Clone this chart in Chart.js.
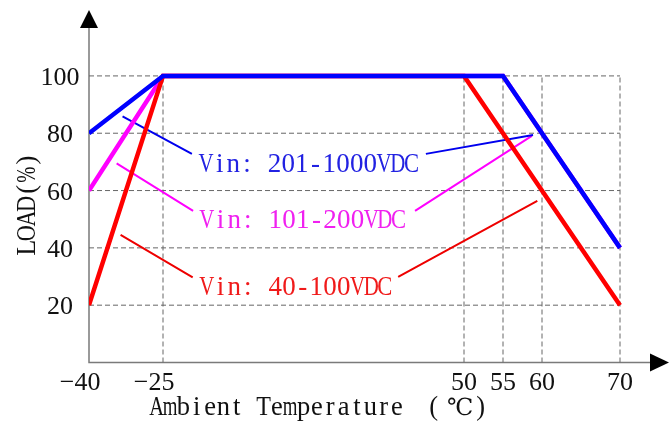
<!DOCTYPE html>
<html>
<head>
<meta charset="utf-8">
<script src="https://cdn.jsdelivr.net/npm/chart.js@4"></script>
<style>
  html, body { margin: 0; padding: 0; background: #fff; }
  canvas { display: block; }
</style>
</head>
<body>
<canvas id="deratingChart" width="669" height="425"></canvas>
<script>
// ==================== DATA ====================

const xTicks = [-40, -25, 50, 55, 60, 70];
const yTicks = [20, 40, 60, 80, 100];

const blueTemp = [-40, -25, 55, 70];
const blueLoad = [80, 100, 100, 40];
const magentaTemp = [-40, -25, 55, 70];
const magentaLoad = [60, 100, 100, 40];
const redTemp = [-40, -25, 50, 70];
const redLoad = [20, 100, 100, 20];

const seriesLabels = ['Vin: 201-1000VDC', 'Vin: 101-200VDC', 'Vin: 40-100VDC'];
// label anchor (temp, load) for each series text
const labelTemp = [-16.0, -15.8, -15.8];
const labelLoad = [66.5, 46.9, 23.6];

// leader lines: [startTemp, startLoad, endTemp, endLoad]
const blueLeaders = [[-33.2, 85.9, -17.8, 72.8], [40.5, 72.8, 58.85, 79.4]];
const magentaLeaders = [[-34.4, 69.5, -17.5, 52.9], [37.8, 52.9, 58.7, 79.1]];
const redLeaders = [[-33.6, 44.5, -17.6, 29.7], [33.6, 29.9, 59.4, 56.4]];

const xTitle = 'Ambient Temperature （℃）';
const yTitle = 'LOAD(%)';

// ==================== AXIS WARP ====================
// the temperature axis is stretched unevenly in the original drawing
const warpAnchors = [[-40, 0], [-25, 74], [50, 375], [70, 531]];

function warp(t) {
    for (let i = 1; i < warpAnchors.length; i++) {
        const [t0, p0] = warpAnchors[i - 1];
        const [t1, p1] = warpAnchors[i];
        if (t <= t1 || i === warpAnchors.length - 1) {
            return p0 + (t - t0) * (p1 - p0) / (t1 - t0);
        }
    }
}

function toPoints(temps, loads) {
    return temps.map((t, i) => ({ x: warp(t), y: loads[i] }));
}

function leaderPoints(list) {
    const pts = [];
    list.forEach(([t0, l0, t1, l1]) => {
        pts.push({ x: warp(t0), y: l0 }, { x: warp(t1), y: l1 }, { x: warp(t1), y: null });
    });
    return pts;
}

function gridPoints() {
    const pts = [];
    yTicks.forEach(v => {
        pts.push({ x: warp(-40), y: v }, { x: warp(70), y: v }, { x: warp(70), y: null });
    });
    xTicks.slice(1).forEach(t => {
        pts.push({ x: warp(t), y: 0 }, { x: warp(t), y: 100 }, { x: warp(t), y: null });
    });
    return pts;
}

// ==================== DRAWING HELPERS ====================

const SERIF = '"Liberation Serif", serif';
const SYMBOL = '"DejaVu Serif", "Noto Sans CJK SC", serif';
const wideChar = /[\u2100-\u214F\u3000-\u30FF\uFF00-\uFFEF]/;

// fake a half-width / full-width monospace layout like the original font
function drawMono(ctx, text, x, y, cell, size) {
    let cx = x;
    for (const ch of text) {
        const wide = wideChar.test(ch);
        const w = wide ? cell * 2 : cell;
        ctx.textAlign = 'center';
        if (ch === '（' || ch === '）') {
            ctx.font = size + 'px ' + SERIF;
            ctx.fillText(ch === '（' ? '(' : ')', cx + w * (ch === '（' ? 0.62 : 0.38), y);
        } else if (wide) {
            ctx.font = (size - 3) + 'px ' + SYMBOL;
            ctx.fillText(ch, cx + w / 2 + 3, y);
        } else {
            ctx.font = size + 'px ' + SERIF;
            const m = ctx.measureText(ch).width;
            const s = m > 0 ? Math.min(1, cell * 1.1 / m) : 1;
            ctx.save();
            ctx.translate(cx + w / 2, y);
            ctx.scale(s, 1);
            ctx.fillText(ch, 0, 0);
            ctx.restore();
        }
        cx += w;
    }
}

const decorPlugin = {
    id: 'decor',
    beforeDatasetsDraw(chart) {
        const { ctx, chartArea, scales: { x, y } } = chart;
        const x0 = x.getPixelForValue(warp(-40));
        const y0 = y.getPixelForValue(0);
        ctx.save();
        ctx.strokeStyle = '#7a7a7a';
        ctx.lineWidth = 1.5;
        ctx.beginPath();
        ctx.moveTo(x0, chartArea.top + 16);
        ctx.lineTo(x0, y0);
        ctx.lineTo(chartArea.right - 16, y0);
        ctx.stroke();

        ctx.fillStyle = '#000';
        ctx.beginPath();
        ctx.moveTo(x0, chartArea.top);
        ctx.lineTo(x0 - 9, chartArea.top + 18);
        ctx.lineTo(x0 + 9, chartArea.top + 18);
        ctx.closePath();
        ctx.fill();
        ctx.beginPath();
        ctx.moveTo(chartArea.right, y0);
        ctx.lineTo(chartArea.right - 19, y0 - 9);
        ctx.lineTo(chartArea.right - 19, y0 + 9);
        ctx.closePath();
        ctx.fill();
        ctx.restore();
    },
    afterDatasetsDraw(chart) {
        const { ctx, scales: { x, y } } = chart;
        ctx.save();
        ctx.fillStyle = '#111';
        ctx.font = '26px ' + SERIF;
        ctx.textBaseline = 'alphabetic';

        // y tick labels
        ctx.textAlign = 'center';
        yTicks.forEach(v => {
            ctx.fillText(String(v), 60, y.getPixelForValue(v) + 9);
        });

        // x tick labels, minus sign hangs to the left of the digits
        const yBase = y.getPixelForValue(0) + 27.5;
        xTicks.forEach(t => {
            const px = x.getPixelForValue(warp(t));
            const digits = String(Math.abs(t));
            ctx.textAlign = 'center';
            ctx.fillText(digits, px - (t < 0 ? 1.5 : 0), yBase);
            if (t < 0) {
                const w = ctx.measureText(digits).width;
                ctx.textAlign = 'right';
                ctx.fillText('\u2212', px - 1.5 - w / 2, yBase);
            }
        });

        // axis titles
        drawMono(ctx, xTitle, 150, 415, 13.35, 26.5);
        ctx.save();
        ctx.translate(35, 255);
        ctx.rotate(-Math.PI / 2);
        drawMono(ctx, yTitle, 0, 0, 14.6, 26.5);
        ctx.restore();

        // series texts
        const textColors = ['#2222e2', '#f020f0', '#f01a1a'];
        seriesLabels.forEach((label, i) => {
            ctx.fillStyle = textColors[i];
            drawMono(ctx, label, x.getPixelForValue(warp(labelTemp[i])), y.getPixelForValue(labelLoad[i]), 13.7, 27);
        });
        ctx.restore();
    }
};

// ==================== CHART ====================

function thickLine(points, color, order) {
    return {
        data: points,
        borderColor: color,
        borderWidth: 4.5,
        borderJoinStyle: 'miter',
        pointRadius: 0,
        tension: 0,
        order: order
    };
}

const ctx = document.getElementById('deratingChart');

new Chart(ctx, {
    type: 'line',
    data: {
        datasets: [
            thickLine(toPoints(blueTemp, blueLoad), '#0000ff', 1),
            thickLine(toPoints(redTemp, redLoad), '#ff0000', 2),
            thickLine(toPoints(magentaTemp, magentaLoad), '#ff00ff', 3),
            { data: leaderPoints(blueLeaders), borderColor: '#0000ee', borderWidth: 2, pointRadius: 0, order: 4 },
            { data: leaderPoints(magentaLeaders), borderColor: '#ff00ff', borderWidth: 2, pointRadius: 0, order: 4 },
            { data: leaderPoints(redLeaders), borderColor: '#ee0000', borderWidth: 2, pointRadius: 0, order: 4 },
            { data: gridPoints(), borderColor: '#666666', borderWidth: 1, borderDash: [5, 3], pointRadius: 0, order: 10 }
        ]
    },
    options: {
        responsive: false,
        animation: false,
        spanGaps: false,
        layout: { padding: { left: 89, right: 0, top: 10, bottom: 62.5 } },
        plugins: {
            legend: { display: false },
            tooltip: { enabled: false }
        },
        scales: {
            x: { type: 'linear', display: false, min: 0, max: 580 },
            y: { type: 'linear', display: false, min: 0, max: 123 }
        }
    },
    plugins: [decorPlugin]
});
</script>
</body>
</html>
